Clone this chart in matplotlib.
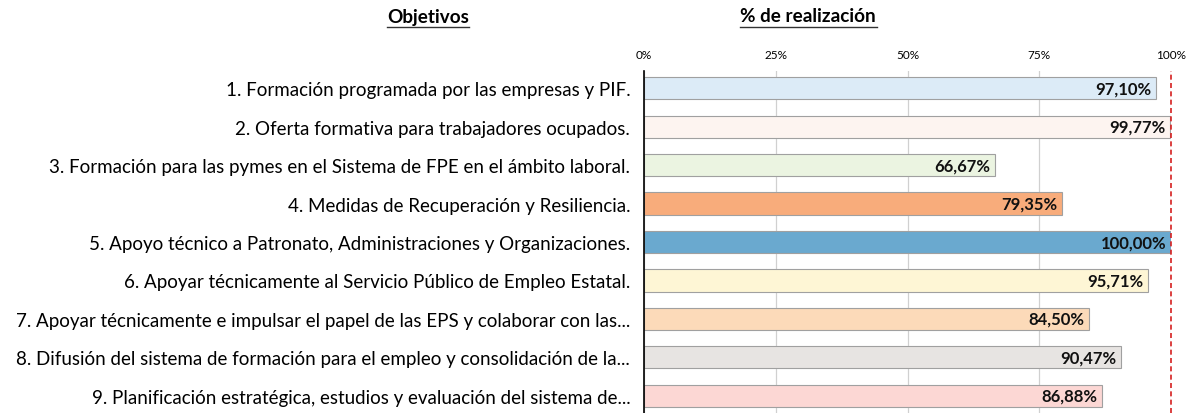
import matplotlib
matplotlib.use("Agg")
import matplotlib.pyplot as plt

objetivos = [
    "1. Formación programada por las empresas y PIF.",
    "2. Oferta formativa para trabajadores ocupados.",
    "3. Formación para las pymes en el Sistema de FPE en el ámbito laboral.",
    "4. Medidas de Recuperación y Resiliencia.",
    "5. Apoyo técnico a Patronato, Administraciones y Organizaciones.",
    "6. Apoyar técnicamente al Servicio Público de Empleo Estatal.",
    "7. Apoyar técnicamente e impulsar el papel de las EPS y colaborar con las...",
    "8. Difusión del sistema de formación para el empleo y consolidación de la...",
    "9. Planificación estratégica, estudios y evaluación del sistema de...",
]
realizacion = [97.10, 99.77, 66.67, 79.35, 100.00, 95.71, 84.50, 90.47, 86.88]
etiquetas = ["97,10%", "99,77%", "66,67%", "79,35%", "100,00%", "95,71%", "84,50%", "90,47%", "86,88%"]
colores = ["#dcebf7", "#fdf4f0", "#ebf4e1", "#f8ac7b", "#6aa9cf", "#fef6d5", "#fcdab9", "#e7e4e2", "#fcd7d4"]
ticks = [0, 25, 50, 75, 100]
tick_labels = ["0%", "25%", "50%", "75%", "100%"]

plt.rcParams['font.family'] = ['Lato', 'DejaVu Sans']

fig = plt.figure(figsize=(11.95, 4.14), dpi=100)
ax = fig.add_axes([0.539, 0.0, 0.441, 0.826])

y = list(range(len(objetivos)))
ax.barh(y, realizacion, height=0.58, color=colores, edgecolor="#a0a0a0", linewidth=0.8, zorder=3)
for yi, v, lab in zip(y, realizacion, etiquetas):
    ax.text(v - 0.9, yi, lab, ha="right", va="center", fontsize=12, fontweight="bold", color="#111111", zorder=4)

ax.set_xlim(0, 100)
ax.set_ylim(8.45, -0.45)
ax.set_yticks(y)
ax.set_yticklabels(objetivos, fontsize=13.5)
ax.tick_params(axis="y", length=0, pad=10)
ax.xaxis.tick_top()
ax.set_xticks(ticks)
ax.set_xticklabels(tick_labels, fontsize=8.5)
ax.tick_params(axis="x", length=0, pad=8)
ax.grid(axis="x", color="#d0d0d0", linewidth=0.9, zorder=0)
for s in ["top", "right", "bottom"]:
    ax.spines[s].set_visible(False)
ax.spines["left"].set_color("black")
ax.spines["left"].set_linewidth(1.2)
ax.spines["left"].set_zorder(5)
ax.axvline(100, color="#d62020", linestyle=(0, (3, 2)), linewidth=1.2, zorder=5, clip_on=False)

fig.text(428 / 1195, 1 - 17 / 414, "Objetivos", ha="center", va="center", fontsize=13.6, fontweight="bold")
fig.text(808 / 1195, 1 - 17 / 414, "% de realización", ha="center", va="center", fontsize=13.6, fontweight="bold")
# underlines
fig.add_artist(plt.Line2D([387 / 1195, 469 / 1195], [1 - 27.5 / 414] * 2, color="#333333", linewidth=1.0))
fig.add_artist(plt.Line2D([740 / 1195, 877 / 1195], [1 - 27.5 / 414] * 2, color="#333333", linewidth=1.0))

fig.savefig("out.png", dpi=100)
